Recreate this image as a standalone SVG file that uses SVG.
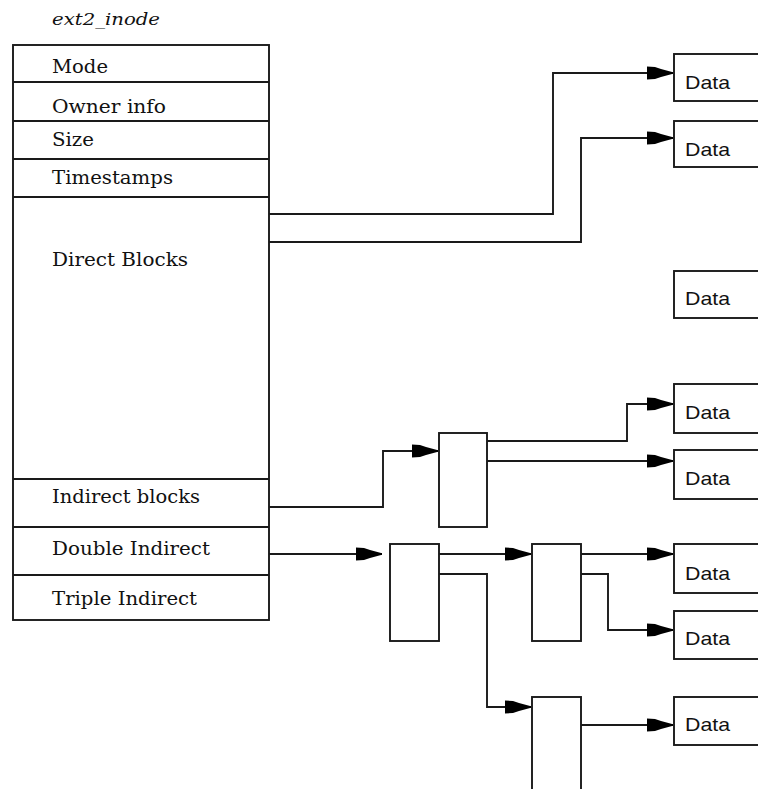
<svg xmlns="http://www.w3.org/2000/svg" width="758" height="789" viewBox="0 0 758 789">
<style>
.box{fill:#fff;stroke:#1a1a1a;stroke-width:1.9}
.sep{stroke:#1a1a1a;stroke-width:1.9}
.lbl{font-family:"DejaVu Serif","Liberation Serif",serif;font-size:19px;fill:#111}
.title{font-family:"DejaVu Serif","Liberation Serif",serif;font-style:italic;font-size:17px;fill:#111}
.data{font-family:"Liberation Sans",Arial,sans-serif;font-size:19px;fill:#111}
.conn{fill:none;stroke:#1a1a1a;stroke-width:1.9;marker-end:url(#ah)}
</style>
<defs>
<marker id="ah" markerUnits="userSpaceOnUse" markerWidth="30" markerHeight="16" viewBox="0 -8 28 16" refX="26" refY="0" orient="auto">
<path d="M0,-6.5 L8,-6 L14,-4 L26,-0.8 L26,0.8 L14,4 L8,6 L0,6.5 Z" fill="#000"/>
</marker>
</defs>
<rect width="758" height="789" fill="#fff"/>
<text class="title" x="52" y="25" textLength="108" lengthAdjust="spacingAndGlyphs">ext2_inode</text>
<g id="inode">
<rect class="box" x="13" y="45" width="256" height="575"/>
<line class="sep" x1="13" y1="82" x2="269" y2="82"/>
<line class="sep" x1="13" y1="121" x2="269" y2="121"/>
<line class="sep" x1="13" y1="159" x2="269" y2="159"/>
<line class="sep" x1="13" y1="197" x2="269" y2="197"/>
<line class="sep" x1="13" y1="479" x2="269" y2="479"/>
<line class="sep" x1="13" y1="527" x2="269" y2="527"/>
<line class="sep" x1="13" y1="575" x2="269" y2="575"/>
<text class="lbl" x="52" y="73" textLength="56" lengthAdjust="spacingAndGlyphs">Mode</text>
<text class="lbl" x="52" y="113" textLength="114" lengthAdjust="spacingAndGlyphs">Owner info</text>
<text class="lbl" x="52" y="146" textLength="42" lengthAdjust="spacingAndGlyphs">Size</text>
<text class="lbl" x="52" y="184" textLength="121" lengthAdjust="spacingAndGlyphs">Timestamps</text>
<text class="lbl" x="52" y="266" textLength="136" lengthAdjust="spacingAndGlyphs">Direct Blocks</text>
<text class="lbl" x="52" y="503" textLength="148" lengthAdjust="spacingAndGlyphs">Indirect blocks</text>
<text class="lbl" x="52" y="555" textLength="158" lengthAdjust="spacingAndGlyphs">Double Indirect</text>
<text class="lbl" x="52" y="605" textLength="145" lengthAdjust="spacingAndGlyphs">Triple Indirect</text>
</g>
<g id="ind1"><rect class="box" x="439" y="433" width="48" height="94"/></g>
<g id="dind1"><rect class="box" x="390" y="544" width="49" height="97"/></g>
<g id="dind2"><rect class="box" x="532" y="544" width="49" height="97"/></g>
<g id="dind3"><rect class="box" x="532" y="697" width="49" height="110"/></g>
<g id="data1"><rect class="box" x="674" y="54" width="120" height="47"/><text class="data" x="685" y="89" textLength="45" lengthAdjust="spacingAndGlyphs">Data</text></g>
<g id="data2"><rect class="box" x="674" y="121" width="120" height="46"/><text class="data" x="685" y="156" textLength="45" lengthAdjust="spacingAndGlyphs">Data</text></g>
<g id="data3"><rect class="box" x="674" y="271" width="120" height="47"/><text class="data" x="685" y="305" textLength="45" lengthAdjust="spacingAndGlyphs">Data</text></g>
<g id="data4"><rect class="box" x="674" y="384" width="120" height="49"/><text class="data" x="685" y="419" textLength="45" lengthAdjust="spacingAndGlyphs">Data</text></g>
<g id="data5"><rect class="box" x="674" y="450" width="120" height="49"/><text class="data" x="685" y="485" textLength="45" lengthAdjust="spacingAndGlyphs">Data</text></g>
<g id="data6"><rect class="box" x="674" y="544" width="120" height="49"/><text class="data" x="685" y="580" textLength="45" lengthAdjust="spacingAndGlyphs">Data</text></g>
<g id="data7"><rect class="box" x="674" y="611" width="120" height="48"/><text class="data" x="685" y="645" textLength="45" lengthAdjust="spacingAndGlyphs">Data</text></g>
<g id="data8"><rect class="box" x="674" y="697" width="120" height="48"/><text class="data" x="685" y="731" textLength="45" lengthAdjust="spacingAndGlyphs">Data</text></g>
<g id="connectors">
<path class="conn" d="M269,214 H553 V73 H673"/>
<path class="conn" d="M269,242 H581 V138 H673"/>
<path class="conn" d="M269,507 H383 V451 H438"/>
<path class="conn" d="M487,441 H627 V404 H673"/>
<path class="conn" d="M487,461 H673"/>
<path class="conn" d="M269,554 H382"/>
<path class="conn" d="M439,554 H531"/>
<path class="conn" d="M439,574 H487 V707 H531"/>
<path class="conn" d="M581,554 H673"/>
<path class="conn" d="M581,574 H608 V630 H673"/>
<path class="conn" d="M581,725 H673"/>
</g>
</svg>
